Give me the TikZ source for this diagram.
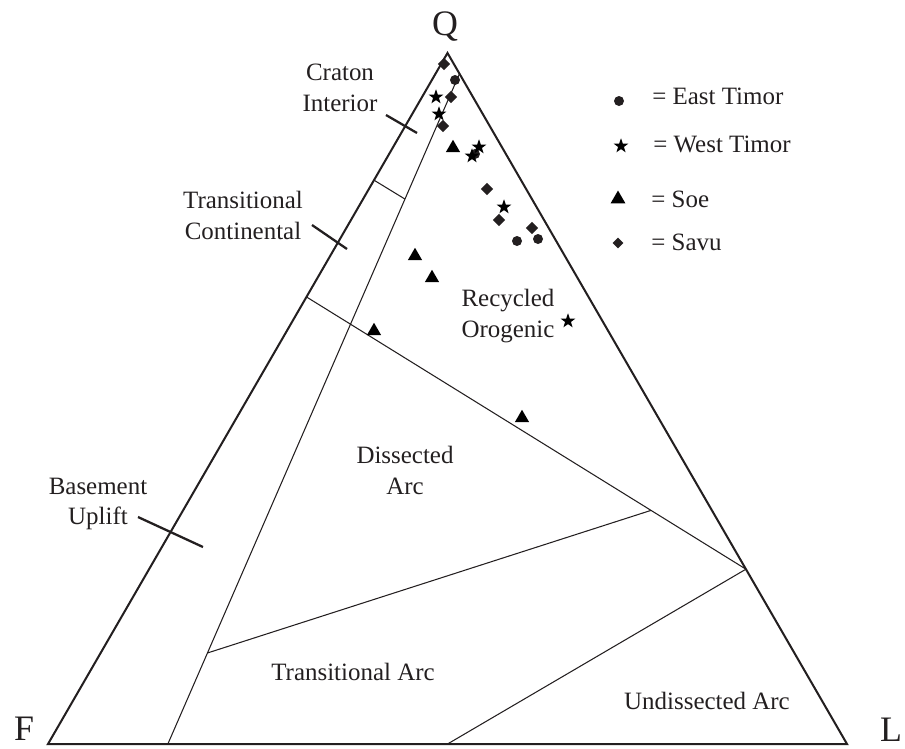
\documentclass[tikz,border=0pt]{standalone}
\usepackage{fontspec}
\setmainfont{Liberation Serif}
\usetikzlibrary{calc,shapes.geometric}
\definecolor{ink}{HTML}{231F20}
\begin{document}
\begin{tikzpicture}[x=0.02cm,y=-0.02cm,
  frame/.style={draw=ink,line width=1.15pt,line join=miter},
  field/.style={draw=ink,line width=0.6pt},
  tickmark/.style={draw=ink,line width=1.3pt},
  lab/.style={font=\fontsize{14.2}{17.6}\selectfont,align=center,inner sep=0pt,text=ink},
  apex/.style={font=\fontsize{20.4}{24}\selectfont,inner sep=0pt,text=ink},
  leg/.style={font=\fontsize{14.2}{17.6}\selectfont,inner sep=0pt,anchor=west,text=ink},
  dot/.style={circle,fill=ink,inner sep=0pt,minimum size=0.2cm},
  starm/.style={star,star points=5,star point ratio=2.5,fill=black,inner sep=0pt,minimum size=0.31cm},
  tri/.style={regular polygon,regular polygon sides=3,fill=black,inner sep=0pt,minimum size=0.33cm},
  dia/.style={diamond,fill=ink,inner sep=0pt,minimum size=0.25cm}]
\useasboundingbox (0,0) rectangle (905,748);
% vertices
\coordinate (F) at (48,744);
\coordinate (L) at (847,744);
\coordinate (Q) at (447.5,53);
% field boundary points
\coordinate (r1) at ($(Q)!0.03!(L)$);
\coordinate (b1) at ($(F)!0.15!(L)$);
\coordinate (s1) at ($(F)!0.816!(Q)$);
\coordinate (s2) at ($(b1)!0.813!(r1)$);
\coordinate (g1) at ($(F)!0.647!(Q)$);
\coordinate (g2) at ($(L)!0.253!(Q)$);
\coordinate (d1) at ($(g1)!0.784!(g2)$);
\coordinate (d2) at ($(b1)!0.1358!(r1)$);
\coordinate (b2) at ($(F)!0.5!(L)$);
% ticks
\coordinate (ct1) at (386,115); \coordinate (ct2) at (417,133);
\coordinate (tt1) at (312,225); \coordinate (tt2) at (347,249);
\coordinate (bt1) at (138,517); \coordinate (bt2) at (203,547);
% field lines
\draw[field] (b1) -- (r1);
\draw[field] (s1) -- (s2);
\draw[field] (g1) -- (g2);
\draw[field] (d1) -- (d2);
\draw[field] (g2) -- (b2);
% frame
\draw[frame] (F) -- (L) -- (Q) -- cycle;
\draw[tickmark] (ct1) -- (ct2);
\draw[tickmark] (tt1) -- (tt2);
\draw[tickmark] (bt1) -- (bt2);
% apex labels
\node[apex,anchor=base] (lQ) at (445,35) {Q};
\node[apex,anchor=base] (lF) at (24,740) {F};
\node[apex,anchor=base] (lL) at (891,741) {L};
% field labels
\node[lab] (craton) at (340,88) {Craton\\Interior};
\node[lab] (trcont) at (243,215) {Transitional\\Continental};
\node[lab] (basement) at (98,504) {Basement\\Uplift};
\node[lab] (recyc) at (508,316) {Recycled\\Orogenic};
\node[lab] (dissect) at (405,470) {Dissected\\Arc};
\node[lab] (trarc) at (353,671.5) {Transitional Arc};
\node[lab] (undiss) at (707,701) {Undissected Arc};
% legend
\node[dot] (k1) at (619,101) {};
\node[leg] (kt1) at (652,96.5) {= East Timor};
\node[starm] (k2) at (621,146) {};
\node[leg] (kt2) at (653,144) {= West Timor};
\node[tri,minimum size=0.34cm] (k3) at (618,199) {};
\node[leg] (kt3) at (651,199.5) {= Soe};
\node[dia,minimum size=0.22cm] (k4) at (618,243) {};
\node[leg] (kt4) at (651,242) {= Savu};
% data: Savu
\node[dia] (sv1) at (444,64) {};
\node[dia] (sv2) at (451,97) {};
\node[dia] (sv3) at (443,126) {};
\node[dia] (sv4) at (487,189) {};
\node[dia] (sv5) at (499,220) {};
\node[dia] (sv6) at (532,228) {};
% data: East Timor
\node[dot] (et1) at (455,80) {};
\node[dot] (et2) at (475,154) {};
\node[dot] (et3) at (517,241) {};
\node[dot] (et4) at (538,239) {};
% data: West Timor
\node[starm] (wt1) at (436,97) {};
\node[starm] (wt2) at (439,114) {};
\node[starm] (wt3) at (479,147) {};
\node[starm] (wt4) at (472,156) {};
\node[starm] (wt5) at (504,207) {};
\node[starm] (wt6) at (568,321) {};
% data: Soe
\node[tri] (so1) at (453,148) {};
\node[tri] (so2) at (415,256) {};
\node[tri] (so3) at (432,278) {};
\node[tri] (so4) at (374,331) {};
\node[tri] (so5) at (522,418) {};
\end{tikzpicture}
\end{document}
